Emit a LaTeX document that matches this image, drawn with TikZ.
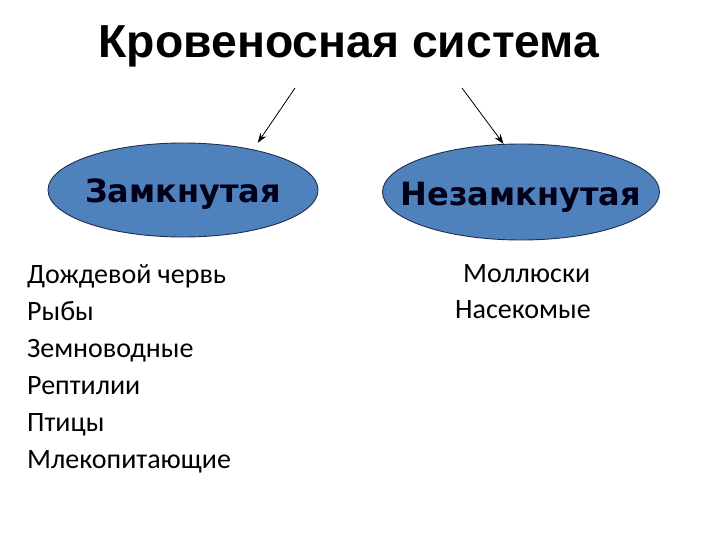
\documentclass[tikz,border=0pt]{standalone}
\usepackage{fontspec}
\setmainfont{Carlito}
\newfontfamily\titlefont{Liberation Sans}
\newfontfamily\ellfont{DejaVu Sans}
\usetikzlibrary{shapes.geometric,arrows.meta}
\definecolor{ellfill}{HTML}{4F81BD}
\definecolor{ellline}{HTML}{1F2F4F}
\tikzset{
  oval/.style={ellipse, fill=ellfill, draw=ellline, line width=0.9pt, inner sep=0pt},
  ovallabel/.style={inner sep=0pt, font=\ellfont\bfseries\fontsize{32}{38}\selectfont, text=black!90!blue},
  item/.style={anchor=base west, inner sep=0pt, font=\fontsize{28}{32}\selectfont},
  conn/.style={-{Stealth[length=10pt,width=7pt]}, line width=0.8pt}
}
\begin{document}
\begin{tikzpicture}[x=1pt,y=-1pt]
\useasboundingbox (0,0) rectangle (720,540);
\node[anchor=base, inner sep=0pt, font=\titlefont\bfseries\fontsize{46.3}{52}\selectfont] (title) at (349,58) {Кровеносная система};
\node[oval, minimum width=270pt, minimum height=94pt] (L) at (183,190) {};
\node[ovallabel, anchor=base] (Lt) at (183,203) {Замкнутая};
\node[oval, minimum width=277pt, minimum height=96pt] (R) at (521,192) {};
\node[ovallabel, anchor=base] (Rt) at (521,206) {Незамкнутая};
\coordinate (a1) at (295,88);
\coordinate (a2) at (462,88);
\draw[conn, shorten >=8pt] (a1) -- (L.30);
\draw[conn] (a2) -- (R.110);
\node[item] (l1) at (27,283) {Дождевой червь};
\node[item] (l2) at (27,320) {Рыбы};
\node[item] (l3) at (27,357) {Земноводные};
\node[item] (l4) at (27,394) {Рептилии};
\node[item] (l5) at (27,431) {Птицы};
\node[item] (l6) at (27,468) {Млекопитающие};
\node[item] (r1) at (463,282) {Моллюски};
\node[item] (r2) at (455,318) {Насекомые};
\end{tikzpicture}
\end{document}
